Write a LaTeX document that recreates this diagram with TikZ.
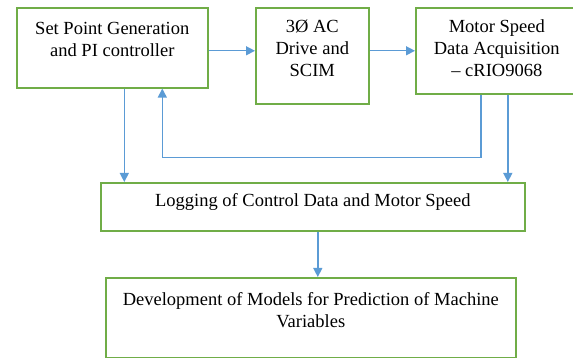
\documentclass[tikz,border=0pt]{standalone}
\usepackage{fontspec}
\setmainfont{Liberation Serif}
\usetikzlibrary{arrows.meta}
\definecolor{boxcolor}{HTML}{70AD47}
\definecolor{flowcolor}{HTML}{5B9BD5}
\newcommand{\boxlines}[4]{\parbox[c][#2][t]{#1}{\centering\rule{0pt}{#3}#4}}
\tikzset{
    block/.style = {rectangle, draw=boxcolor, line width=1.6pt, inner sep=0pt, anchor=north west,
                    font=\fontsize{18.5}{21.8}\selectfont},
    flow/.style = {draw=flowcolor, line width=1.4pt, -{Triangle[length=9pt, width=9pt]}}
}

\begin{document}
\begin{tikzpicture}[x=1pt, y=1pt]
        \useasboundingbox (0, 0) rectangle (573, 358);
        % draw blocks
        \node[block] (setpt) at (16, 351) {\boxlines{191pt}{80pt}{27pt}{Set Point Generation\\and PI controller}};
        \node[block] (drive) at (255, 351) {\boxlines{113pt}{96pt}{25pt}{3Ø AC\\Drive and\\SCIM}};
        \node[block] (acq) at (415, 351) {\boxlines{162pt}{86pt}{25pt}{Motor Speed\\Data Acquisition\\– cRIO9068}};
        \node[block] (log) at (100, 176) {\boxlines{424pt}{48pt}{24pt}{Logging of Control Data and Motor Speed}};
        \node[block] (model) at (105, 81) {\boxlines{410pt}{80pt}{28pt}{Development of Models for Prediction of Machine\\Variables}};
        % draw forward flow
        \draw[flow] ([yshift=-3pt]setpt.east) coordinate (a1) -- (a1 -| drive.west);
        \draw[flow] (drive.east |- acq.west) -- (acq.west);
        % draw feedback
        \draw[flow] ([xshift=-16pt]acq.south) -- ++(0, -63) -| ([xshift=50pt]setpt.south);
        % draw logging lines
        \draw[flow] ([xshift=12pt]setpt.south) coordinate (a2) -- (a2 |- log.north);
        \draw[flow] ([xshift=11pt]acq.south) coordinate (a3) -- (a3 |- log.north);
        \draw[flow] ([xshift=5pt]log.south) coordinate (a4) -- (a4 |- model.north);
    \end{tikzpicture}
\end{document}
